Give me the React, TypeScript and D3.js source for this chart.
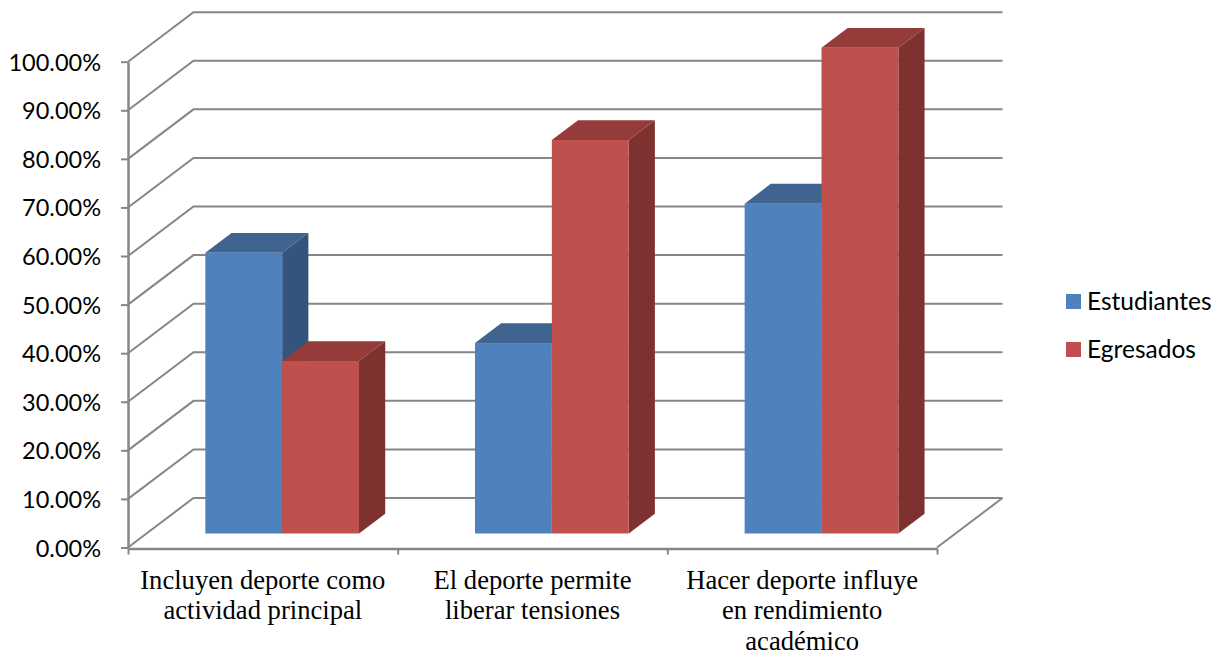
import { useEffect, useRef } from "react";
import * as d3 from "d3";

const categories = [
  ["Incluyen deporte como", "actividad principal"],
  ["El deporte permite", "liberar tensiones"],
  ["Hacer deporte influye", "en rendimiento", "académico"],
];
const estudiantes = [57.8, 39.2, 67.9];
const egresados = [35.5, 81, 100];
const yTicks = [0, 10, 20, 30, 40, 50, 60, 70, 80, 90, 100];
const seriesNames = ["Estudiantes", "Egresados"];

const palette = [
  { front: "#4F81BD", top: "#3E648F", side: "#34547B" },
  { front: "#C0504D", top: "#953B39", side: "#7D3230" },
];
const sansFont = "Lato, 'Open Sans', sans-serif";
const serifFont = "'Liberation Serif', serif";

export default function App() {
  const svgRef = useRef<SVGSVGElement | null>(null);

  useEffect(() => {
    if (!svgRef.current) return;
    const svg = d3.select(svgRef.current);
    svg.selectAll("*").remove();

    const left = 128;
    const right = 937;
    const y0 = 547.5;
    const y100 = 61.7;
    // offset of the back wall from the front of the floor
    const depthX = 65.5;
    const depthY = -49.5;

    const y = d3.scaleLinear().domain([0, 100]).range([y0, y100]);
    const xAxisScale = d3.scaleLinear().domain([0, 3]).range([left, right]);
    const xGroup = d3
      .scaleBand<number>()
      .domain([0, 1, 2])
      .range([left + 0.8, right + 0.8])
      .paddingInner(0.43)
      .paddingOuter(0.215);
    const xSeries = d3
      .scaleBand<number>()
      .domain([0, 1])
      .range([0, xGroup.bandwidth()]);
    const depth = d3.scaleLinear().domain([0, 1]).range([0, 1]);

    const line = d3.line();
    const grid = "#868686";

    // Walls: diagonal on the side wall and line on the back wall
    const gridG = svg.append("g").attr("fill", "none").attr("stroke", grid);
    yTicks.forEach((t) => {
      gridG
        .append("path")
        .attr("stroke-width", 2)
        .attr(
          "d",
          line([
            [left, y(t)],
            [left + depthX, y(t) + depthY],
            [right + depthX, y(t) + depthY],
          ]),
        );
    });
    // Floor edge on the right
    gridG
      .append("path")
      .attr("stroke-width", 2)
      .attr(
        "d",
        line([
          [right + depthX, y0 + depthY],
          [right, y0],
        ]),
      );

    // Bars
    const frontD = depth(0.283);
    const backD = depth(0.683);
    const barsG = svg.append("g");
    categories.forEach((_, i) => {
      [estudiantes, egresados].forEach((values, s) => {
        const x1 = xGroup(i)! + xSeries(s)! + frontD * depthX;
        const x2 = x1 + xSeries.bandwidth();
        const base = y(0) + frontD * depthY;
        const top = y(values[i]) + frontD * depthY;
        const dx = (backD - frontD) * depthX;
        const dy = (backD - frontD) * depthY;
        const g = barsG.append("g");
        g.append("path")
          .attr("fill", palette[s].side)
          .attr(
            "d",
            line([
              [x2, top],
              [x2 + dx, top + dy],
              [x2 + dx, base + dy],
              [x2, base],
            ]) + "Z",
          );
        g.append("path")
          .attr("fill", palette[s].top)
          .attr(
            "d",
            line([
              [x1, top],
              [x1 + dx, top + dy],
              [x2 + dx, top + dy],
              [x2, top],
            ]) + "Z",
          );
        g.append("rect")
          .attr("x", x1)
          .attr("y", top)
          .attr("width", x2 - x1)
          .attr("height", base - top)
          .attr("fill", palette[s].front);
      });
    });

    // Y axis
    const yAxis = svg
      .append("g")
      .attr("transform", `translate(${left},0)`)
      .call(
        d3
          .axisLeft(y)
          .tickValues(yTicks)
          .tickSize(7)
          .tickPadding(20)
          .tickSizeOuter(0)
          .tickFormat((d) => `${d3.format(".2f")(d as number)}%`),
      );
    yAxis.select(".domain").attr("stroke", grid).attr("stroke-width", 2.5);
    yAxis.selectAll(".tick line").attr("stroke", grid).attr("stroke-width", 2);
    yAxis
      .selectAll("text")
      .attr("fill", "#000")
      .attr("y", 1)
      .style("font-family", sansFont)
      .style("font-size", "23.5px");

    // X axis: ticks sit between the categories
    const xAxis = svg
      .append("g")
      .attr("transform", `translate(0,${y0 + 1})`)
      .call(
        d3
          .axisBottom(xAxisScale)
          .tickValues([0, 1, 2, 3])
          .tickSize(6)
          .tickSizeOuter(0)
          .tickFormat(() => ""),
      );
    xAxis.select(".domain").attr("stroke", grid).attr("stroke-width", 2.5);
    xAxis.selectAll(".tick line").attr("stroke", grid).attr("stroke-width", 2);

    // Category labels
    const labels = svg
      .append("g")
      .attr("text-anchor", "middle")
      .attr("fill", "#000")
      .style("font-family", serifFont)
      .style("font-size", "26.6px");
    categories.forEach((lines, i) => {
      lines.forEach((l, j) => {
        labels
          .append("text")
          .attr("x", xGroup(i)! + xGroup.bandwidth() / 2 - 0.8)
          .attr("y", 588.5 + j * 30.5)
          .text(l);
      });
    });

    // Legend
    const legend = svg.append("g");
    seriesNames.forEach((name, i) => {
      const ly = 301.5 + i * 48;
      legend
        .append("rect")
        .attr("x", 1066)
        .attr("y", ly - 7.5)
        .attr("width", 15)
        .attr("height", 15)
        .attr("fill", palette[i].front);
      legend
        .append("text")
        .attr("x", 1087)
        .attr("y", ly + 8)
        .attr("fill", "#000")
        .style("font-family", sansFont)
        .style("font-size", "24.5px")
        .text(name);
    });
  }, []);

  return (
    <svg
      ref={svgRef}
      width={1224}
      height={651}
      style={{ position: "absolute", left: 0, top: 0, background: "#fff" }}
    />
  );
}
